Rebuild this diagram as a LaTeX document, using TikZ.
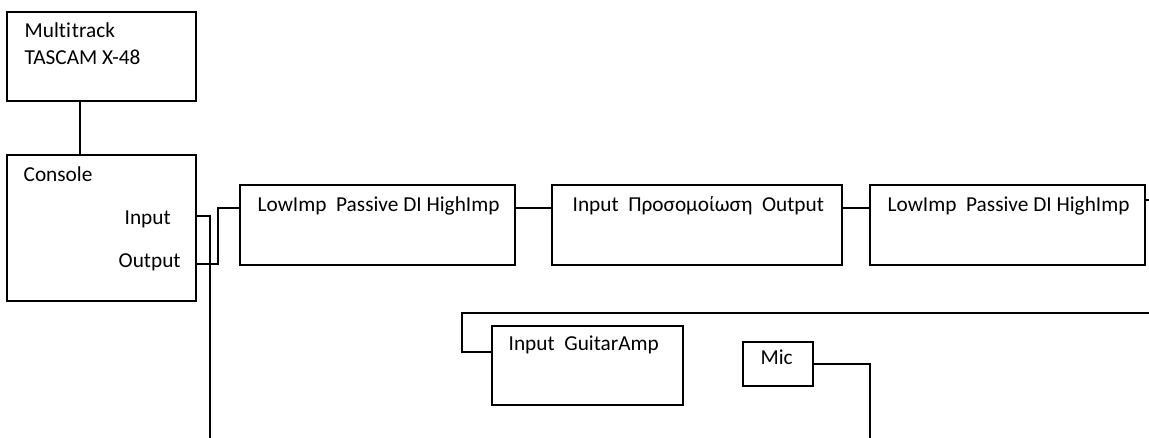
\documentclass[tikz,border=0pt]{standalone}
\usepackage{fontspec}
\setmainfont{Carlito}[Ligatures=NoCommon]
\usetikzlibrary{positioning}
\tikzset{box/.style = {rectangle,draw,line width=1.3pt,inner sep=0pt,outer sep=0pt},
         txt/.style = {anchor=base west,inner sep=0pt,font=\fontsize{21.3}{24}\selectfont}}

\begin{document}
\begin{tikzpicture}[x=1pt,y=-1pt,line width=1.3pt]
    \useasboundingbox (0,0) rectangle (1149,438);
    % boxes
    \node [box, minimum width=189pt, minimum height=89pt]  (multitrack) at (101.5, 56.5) {};
    \node [box, minimum width=189pt, minimum height=146pt] (console)    at (101.5,228)   {};
    \node [box, minimum width=275pt, minimum height=80pt]  (passivedi)  at (377.5,225)   {};
    \node [box, minimum width=290pt, minimum height=80pt]  (sim)        at (697,  225)   {};
    \node [box, minimum width=275pt, minimum height=80pt]  (passivedib) at (1007.5,225)  {};
    \node [box, minimum width=191pt, minimum height=79pt]  (guitaramp)  at (587.5,365.5) {};
    \node [box, minimum width=70pt,  minimum height=44pt]  (mic)        at (778,  364)   {};

    % texts
    \node [txt] (mtname)   at ( 24, 38) {Multi\kern1pt track};
    \node [txt] (mtmodel)  at ( 24, 65) {TASCAM X-48};
    \node [txt] (conname)  at ( 23,182) {Console};
    \node [txt] (conin)    at (124,225) {Input};
    \node [txt] (conout)   at (118,268) {Output};
    \node [txt] (ditext)   at (257,212) {LowImp\ \ Passive DI HighImp};
    \node [txt] (simtext)  at (572,212) {Input\ \ Προσομοίωση\ \ Output};
    \node [txt] (ditextb)  at (887,212) {LowImp\ \ Passive DI HighImp};
    \node [txt] (amptext)  at (508,351) {Input\ \ GuitarAmp};
    \node [txt] (mictext)  at (760,365) {Mic};

    % free ends
    \coordinate (bottomin)  at ( 210,438);
    \coordinate (rightdi)   at (1149,200);
    \coordinate (loopend)   at (1149,313);
    \coordinate (bottommic) at ( 870,438);

    % connectors
    \draw ([xshift=-21.5pt]multitrack.south) -- ([xshift=-21.5pt]console.north);
    \draw ([yshift=12pt]console.east) -| (bottomin);
    \draw ([yshift=-36pt]console.east) -- ++(22,0) |- ([yshift=17pt]passivedi.west);
    \draw ([yshift=17pt]passivedi.east) -- ([yshift=17pt]sim.west);
    \draw ([yshift=17pt]sim.east) -- ([yshift=17pt]passivedib.west);
    \draw ([yshift=25pt]passivedib.east) -- (rightdi);
    \draw (loopend) -| ([xshift=-30pt,yshift=13.5pt]guitaramp.west) -- ([yshift=13.5pt]guitaramp.west);
    \draw (mic.east) -| (bottommic);
\end{tikzpicture}
\end{document}
